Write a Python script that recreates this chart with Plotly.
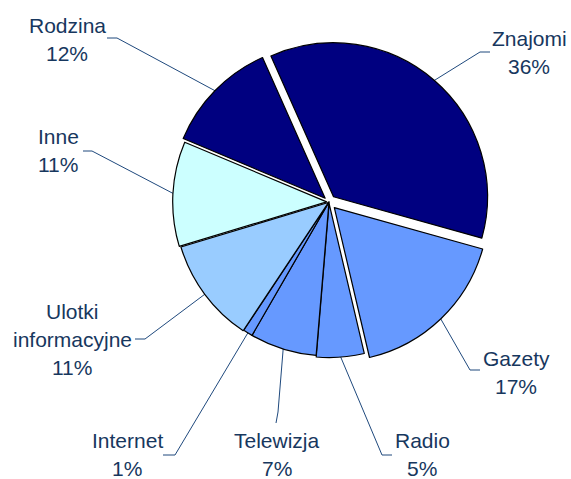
import math
import plotly.graph_objects as go

# ---- data ----
categories = ["Znajomi", "Gazety", "Radio", "Telewizja", "Internet",
              "Ulotki<br>informacyjne", "Inne", "Rodzina"]
values = [36, 17, 5, 7, 1, 11, 11, 12]
pct_labels = ["36%", "17%", "5%", "7%", "1%", "11%", "11%", "12%"]

# ---- style / layout ----
colors = ["#000080", "#6699FF", "#6699FF", "#6699FF", "#6699FF",
          "#99CCFF", "#CCFFFF", "#000080"]
pulls = [0.045, 0.05, 0.01, 0.0, 0.0, 0.005, 0.015, 0.035]
W, H = 571, 479
CX, CY, R = 329, 202, 154    # page pixel coordinates
ROT = -24
TXT = "#17375E"
LINE = "#1F497D"
FONT = "Arial, Liberation Sans, sans-serif"
FS = 21
LH = 28

# label: (x centre, y of first line centre), leader polyline from text side
label_pos = {
    "Znajomi": ((529, 38), [(490, 52), (480, 52)]),
    "Gazety": ((516, 358), [(480, 370), (470, 370)]),
    "Radio": ((422, 440), [(392, 455), (382, 455)]),
    "Telewizja": ((277, 440), [(276, 423), (278, 412)]),
    "Internet": ((127, 440), [(163, 455), (175, 455)]),
    "Ulotki<br>informacyjne": ((72, 311), [(135, 339), (145, 339)]),
    "Inne": ((58, 136), [(83, 151), (92, 151)]),
    "Rodzina": ((67, 25), [(107, 38), (117, 38)]),
}

maxpull = max(pulls)
half = R * (1 + maxpull)
dom_x = [(CX - half) / W, (CX + half) / W]
dom_y = [1 - (CY + half) / H, 1 - (CY - half) / H]

fig = go.Figure()
fig.add_trace(go.Pie(
    labels=categories, values=values, sort=False, direction="clockwise",
    rotation=ROT, pull=pulls, textinfo="none", hoverinfo="label+percent",
    marker=dict(colors=colors, line=dict(color="#000000", width=1.2)),
    domain=dict(x=dom_x, y=dom_y), showlegend=False,
))

total = sum(values)
cum = 0
annotations = []
for cat, v, pct, p in zip(categories, values, pct_labels, pulls):
    mid = ROT + (cum + v / 2) / total * 360
    cum += v
    a = math.radians(mid)
    re = R * (1 + p) - 1
    ex, ey = CX + re * math.sin(a), CY - re * math.cos(a)
    (tx, ty), pts = label_pos[cat]
    xs = [q[0] for q in pts] + [ex]
    ys = [q[1] for q in pts] + [ey]
    fig.add_trace(go.Scatter(x=xs, y=ys, mode="lines",
                             line=dict(color=LINE, width=1),
                             hoverinfo="skip", showlegend=False))
    lines = cat.split("<br>") + [pct]
    for i, t in enumerate(lines):
        annotations.append(dict(
            x=tx, y=ty + i * LH, xref="x", yref="y", text=t,
            showarrow=False, xanchor="center", yanchor="middle", borderpad=0,
            font=dict(family=FONT, size=FS, color=TXT)))

fig.update_layout(
    width=W, height=H, margin=dict(l=0, r=0, t=0, b=0),
    paper_bgcolor="white", plot_bgcolor="rgba(0,0,0,0)",
    xaxis=dict(range=[0, W], visible=False, fixedrange=True),
    yaxis=dict(range=[H, 0], visible=False, fixedrange=True),
    annotations=annotations,
)
fig.write_html(
    "out.html",
    config={"displayModeBar": False},
    post_script="document.body.style.margin='0';"
                "document.body.style.overflow='hidden';",
)
